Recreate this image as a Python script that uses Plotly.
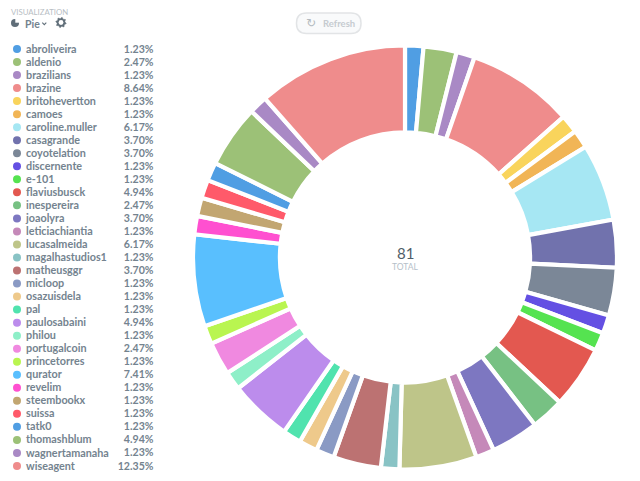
import math
import plotly.graph_objects as go

names = ["abroliveira","aldenio","brazilians","brazine","britohevertton","camoes","caroline.muller","casagrande","coyotelation","discernente","e-101","flaviusbusck","inespereira","joaolyra","leticiachiantia","lucasalmeida","magalhastudios1","matheusggr","micloop","osazuisdela","pal","paulosabaini","philou","portugalcoin","princetorres","qurator","revelim","steembookx","suissa","tatk0","thomashblum","wagnertamanaha","wiseagent"]
values = [1,2,1,7,1,1,5,3,3,1,1,4,2,3,1,5,1,3,1,1,1,4,1,2,1,6,1,1,1,1,4,1,10]
colors = ["#509EE3","#9CC177","#A989C5","#EF8C8C","#F9D45C","#F1B556","#A6E7F3","#7172AD","#7B8797","#6450E3","#55E350","#E35850","#77C183","#7D77C1","#C589B9","#BEC589","#89C3C5","#BC7272","#8A9AC4","#EEC98B","#50E3AE","#BC8CEC","#8EEFC8","#F089E0","#B9F550","#59BFFE","#FF50D0","#C2A671","#FF5A6A","#509EE3","#9CC177","#A989C5","#EF8C8C"]

W, H = 640, 481
TXT = "#74838F"
total = sum(values)
pct = [f"{v / total * 100:.2f}%" for v in values]
rows = list(range(len(names)))
ROW0, ROWH = 49.0, 13.03
text_rows = [i + 0.07 for i in rows]

# The original layout gives every slice one degree of padding on top of its
# proportional share of the remaining circle.
pad_units = 1 / ((360 - len(values)) / total)
arc_sizes = [v + pad_units for v in values]

fig = go.Figure()
cx, cy, r = 405, 257.5, 212
fig.add_trace(go.Pie(
    labels=names, values=arc_sizes, sort=False, direction="clockwise", rotation=0, hole=0.59,
    marker=dict(colors=colors, line=dict(color="white", width=4.2)),
    textinfo="none", showlegend=False, customdata=pct, hovertemplate="%{label}: %{customdata}<extra></extra>",
    domain=dict(x=[(cx - r) / W, (cx + r) / W], y=[1 - (cy + r) / H, 1 - (cy - r) / H]),
))
fig.add_trace(go.Scatter(x=[17] * len(rows), y=rows, mode="markers", showlegend=False,
    marker=dict(color=colors, size=8, line=dict(width=0)), hoverinfo="skip"))
fig.add_trace(go.Scatter(x=[26] * len(rows), y=text_rows, mode="text", text=names, textposition="middle right",
    showlegend=False, textfont=dict(family="Lato", size=10.8, color=TXT, weight="bold"), hoverinfo="skip"))
fig.add_trace(go.Scatter(x=[153.5] * len(rows), y=text_rows, mode="text", text=pct, textposition="middle left",
    showlegend=False, textfont=dict(family="Lato", size=10.6, color=TXT, weight="bold"), hoverinfo="skip"))

def note(x, y, text, size, color, anchor="left", weight="normal", family="Lato"):
    fig.add_annotation(xref="paper", yref="paper", x=x / W, y=1 - y / H, text=text, showarrow=False,
        xanchor=anchor, yanchor="middle", align=anchor, borderpad=0,
        font=dict(family=family, size=size, color=color, weight=weight))

note(10, 12, "VISUALIZATION", 7.8, "#B8BEC4")
note(24, 23.5, "Pie", 10.5, TXT, weight="bold")
note(311, 23, "↻", 12, "#B4BAC0", "center", family="DejaVu Sans")
note(322, 23, "Refresh", 9.5, "#C6CBD0", weight="bold")
note(405, 253, str(total), 15, "#4F5D69", "center")
note(405, 267, "TOTAL", 8.5, "#B5BFC9", "center")

px = lambda x: f"{x / W:.5f}"
py = lambda y: f"{1 - y / H:.5f}"
pt = lambda x, y: f"{px(x)},{py(y)}"

def rounded(x0, y0, x1, y1, rad):
    return (f"M{pt(x0 + rad, y0)} L{pt(x1 - rad, y0)} Q{pt(x1, y0)} {pt(x1, y0 + rad)} "
            f"L{pt(x1, y1 - rad)} Q{pt(x1, y1)} {pt(x1 - rad, y1)} "
            f"L{pt(x0 + rad, y1)} Q{pt(x0, y1)} {pt(x0, y1 - rad)} "
            f"L{pt(x0, y0 + rad)} Q{pt(x0, y0)} {pt(x0 + rad, y0)} Z")

def circle(x, y, rad, fill, line=None, width=0):
    fig.add_shape(type="circle", xref="paper", yref="paper", x0=(x - rad) / W, x1=(x + rad) / W,
        y0=1 - (y + rad) / H, y1=1 - (y - rad) / H, fillcolor=fill, line=dict(color=line or fill, width=width))

fig.add_shape(type="path", xref="paper", yref="paper", path=rounded(296.5, 13, 361, 33.5, 10), layer="below",
    fillcolor="#F9FAFB", line=dict(color="#E2E4E6", width=1.5))

# pie icon: disc with a notch at the upper right
circle(15, 23, 4, "#606E79")
fig.add_shape(type="path", xref="paper", yref="paper",
    path=f"M{pt(15.3, 22.7)} L{pt(15.3, 18.5)} L{pt(19.5, 18.5)} L{pt(19.5, 22.7)} Z",
    fillcolor="white", line=dict(color="white", width=0))
# chevron
fig.add_shape(type="path", xref="paper", yref="paper",
    path=f"M{pt(42.3, 22.6)} L{pt(44.3, 24.6)} L{pt(46.3, 22.6)}", line=dict(color="#606E79", width=1.1))
# gear icon
gx, gy = 61, 22.5
teeth = []
for k in range(16):
    a = k * math.pi / 8 + math.pi / 16
    rad = 5.4 if k % 2 == 0 else 3.9
    teeth.append(pt(gx + rad * math.cos(a), gy + rad * math.sin(a)))
fig.add_shape(type="path", xref="paper", yref="paper", path="M" + " L".join(teeth) + " Z",
    fillcolor="#606E79", line=dict(color="#606E79", width=0.5))
circle(gx, gy, 2.4, "white")

fig.update_layout(
    width=W, height=H, margin=dict(l=0, r=0, t=0, b=0), paper_bgcolor="white", plot_bgcolor="rgba(0,0,0,0)",
    xaxis=dict(range=[0, W], visible=False, fixedrange=True),
    yaxis=dict(range=[(H - ROW0) / ROWH, -ROW0 / ROWH], visible=False, fixedrange=True),
)
fig.write_html("out.html", config=dict(displayModeBar=False),
    post_script="document.body.style.margin='0';document.body.style.overflow='hidden';")
